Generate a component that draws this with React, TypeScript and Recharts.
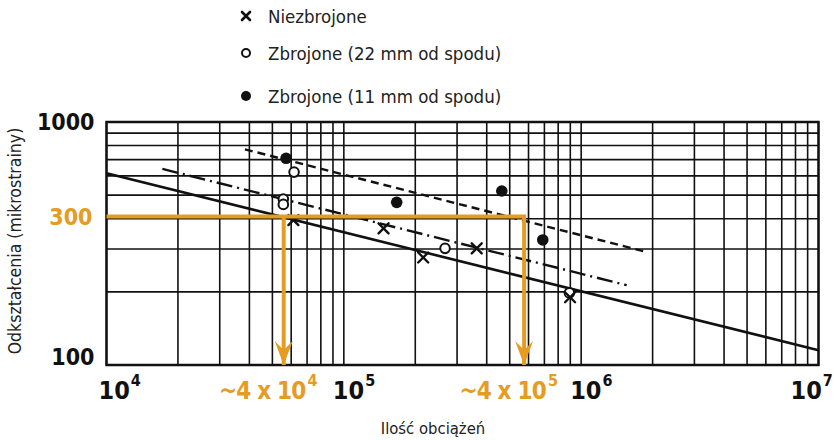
import React from 'react';
import { ScatterChart, Scatter, XAxis, YAxis, CartesianGrid, ReferenceArea } from 'recharts';

// grid / tick values
const gridCycles = [
  1e4, 2e4, 3e4, 4e4, 5e4, 6e4, 7e4, 8e4, 9e4,
  1e5, 2e5, 3e5, 4e5, 5e5, 6e5, 7e5, 8e5, 9e5,
  1e6, 2e6, 3e6, 4e6, 5e6, 6e6, 7e6, 8e6, 9e6,
  1e7,
];
const gridStrain = [100, 200, 300, 400, 500, 600, 700, 800, 900, 1000];
const decadeCycles = [1e4, 1e5, 1e6, 1e7];
const decadeExponents = ['4', '5', '6', '7'];
const strainLabels = [100, 1000];

// measured points
const unreinforcedCycles = [6.13e4, 1.47e5, 2.16e5, 3.63e5, 8.98e5];
const unreinforcedStrain = [395, 365, 277, 302, 190];
const reinf22Cycles = [6.17e4, 5.56e4, 5.56e4, 2.67e5, 8.92e5];
const reinf22Strain = [622, 482, 458, 302, 198];
const reinf11Cycles = [5.71e4, 1.67e5, 4.63e5, 6.89e5];
const reinf11Strain = [709, 467, 520, 327];

// fitted lines
const fitUnreinfCycles = [1e4, 1e7];
const fitUnreinfStrain = [615, 115];
const fit22Cycles = [1.72e4, 1.556e6];
const fit22Strain = [641, 213];
const fit11Cycles = [3.83e4, 1.83e6];
const fit11Strain = [772, 294];

// annotation (orange)
const refStrain = 408;
const refLabel = '300';
const arrowCycles = [5.58e4, 5.75e5];
const arrowMantissa = ['~4 x 10', '~4 x 10'];
const arrowExponents = ['4', '5'];

const legendNames = ['Niezbrojone', 'Zbrojone (22 mm od spodu)', 'Zbrojone (11 mm od spodu)'];

const zip = (xs: number[], ys: number[]) => xs.map((x, i) => ({ x, y: ys[i] }));

const ORANGE = '#E69B22';
const INK = '#111';
const COND = '"DejaVu Sans Condensed", "Liberation Sans Narrow", "DejaVu Sans", sans-serif';

const unreinforced = zip(unreinforcedCycles, unreinforcedStrain);
const reinf22 = zip(reinf22Cycles, reinf22Strain);
const reinf11 = zip(reinf11Cycles, reinf11Strain);
const fitUnreinf = zip(fitUnreinfCycles, fitUnreinfStrain);
const fit22 = zip(fit22Cycles, fit22Strain);
const fit11 = zip(fit11Cycles, fit11Strain);
const orangeMain = [
  { x: 1e4, y: refStrain },
  { x: arrowCycles[1], y: refStrain },
  { x: arrowCycles[1], y: 100 },
];
const orangeFirst = [
  { x: arrowCycles[0], y: refStrain },
  { x: arrowCycles[0], y: 100 },
];
const arrowPoints = arrowCycles.map((x, i) => ({ x, y: 100, m: arrowMantissa[i], e: arrowExponents[i] }));
const refPoint = [{ x: 1e4, y: refStrain }];

const XTick = (props: any) => {
  const { x, payload } = props;
  const i = decadeCycles.indexOf(payload.value);
  if (i < 0) return <g />;
  const dx = i === 0 ? 6 : i === decadeCycles.length - 1 ? -14 : 3;
  return (
    <text x={x + dx - 14} y={399} textAnchor="start" fontFamily={COND} fontWeight={700} fontSize={25} fill={INK}>
      <tspan>10</tspan>
      <tspan dx={1} dy={-13} fontSize={16}>{decadeExponents[i]}</tspan>
    </text>
  );
};

const YTick = (props: any) => {
  const { y, payload } = props;
  if (strainLabels.indexOf(payload.value) < 0) return <g />;
  const dy = payload.value === 100 ? -8 : 0;
  return (
    <text x={106.5 - 12} y={y + dy} textAnchor="end" dominantBaseline="central" fontFamily={COND} fontWeight={700} fontSize={23} fill={INK}>
      {payload.value}
    </text>
  );
};

const Cross = (props: any) => {
  const { cx, cy } = props;
  const s = 5;
  return (
    <g stroke={INK} strokeWidth={2.4} strokeLinecap="round">
      <line x1={cx - s} y1={cy - s} x2={cx + s} y2={cy + s} />
      <line x1={cx - s} y1={cy + s} x2={cx + s} y2={cy - s} />
    </g>
  );
};
const OpenDot = (props: any) => <circle cx={props.cx} cy={props.cy} r={4.8} fill="#fff" stroke={INK} strokeWidth={2} />;
const FilledDot = (props: any) => <circle cx={props.cx} cy={props.cy} r={5.8} fill={INK} />;
const NoShape = () => <g />;

const ArrowHead = (props: any) => {
  const { cx, cy, payload } = props;
  return (
    <g>
      <path d={`M ${cx - 9} ${cy - 24} L ${cx} ${cy - 15} L ${cx + 9} ${cy - 24} L ${cx} ${cy} Z`} fill={ORANGE} />
      <text x={cx + 33} y={399} textAnchor="end" fontFamily={COND} fontWeight={700} fontSize={24} letterSpacing={-0.8} fill={ORANGE}>
        {payload.m}
        <tspan dx={2} dy={-13} fontSize={16}>{payload.e}</tspan>
      </text>
    </g>
  );
};

const RefLabel = (props: any) => (
  <text x={props.cx - 14} y={props.cy} textAnchor="end" dominantBaseline="central" fontFamily={COND} fontWeight={700} fontSize={23} fill={ORANGE}>
    {refLabel}
  </text>
);

const LegendSymbol = ({ i }: { i: number }) => (
  <svg width={16} height={16} style={{ display: 'block' }}>
    {i === 0 && (
      <g stroke={INK} strokeWidth={2.6} strokeLinecap="round">
        <line x1={4} y1={4} x2={12} y2={12} />
        <line x1={4} y1={12} x2={12} y2={4} />
      </g>
    )}
    {i === 1 && <circle cx={8} cy={8} r={4} fill="#fff" stroke={INK} strokeWidth={2} />}
    {i === 2 && <circle cx={8} cy={8} r={5} fill={INK} />}
  </svg>
);

export default function App() {
  return (
    <div style={{ position: 'absolute', left: 0, top: 0, width: 834, height: 440, background: '#fff', overflow: 'hidden' }}>
      <div style={{ position: 'absolute', left: 238, top: 0 }}>
        {legendNames.map((n, i) => (
          <div key={n} style={{ position: 'absolute', top: [16, 53, 96][i] - 11, left: 0, height: 22, display: 'flex', alignItems: 'center', whiteSpace: 'nowrap' }}>
            <LegendSymbol i={i} />
            <span style={{ marginLeft: 14, fontFamily: COND, fontSize: 18.5, color: '#222' }}>{n}</span>
          </div>
        ))}
      </div>
      <ScatterChart width={834} height={440} margin={{ top: 122, right: 15.5, bottom: 35, left: 46.5 }}>
        <CartesianGrid stroke={INK} strokeWidth={1.6} />
        <XAxis
          dataKey="x"
          type="number"
          scale="log"
          domain={[1e4, 1e7]}
          ticks={gridCycles}
          interval={0}
          height={40}
          axisLine={false}
          tickLine={false}
          tick={<XTick />}
        />
        <YAxis
          dataKey="y"
          type="number"
          scale="log"
          domain={[100, 1000]}
          ticks={gridStrain}
          interval={0}
          width={60}
          axisLine={false}
          tickLine={false}
          tick={<YTick />}
        />
        <ReferenceArea x1={1e4} x2={1e7} y1={100} y2={1000} fill="none" stroke={INK} strokeWidth={2.4} ifOverflow="visible" />
        <Scatter data={fitUnreinf} shape={NoShape} line={{ stroke: INK, strokeWidth: 2.6 }} isAnimationActive={false} />
        <Scatter data={fit22} shape={NoShape} line={{ stroke: INK, strokeWidth: 2.4, strokeDasharray: '16 5 2 5' }} isAnimationActive={false} />
        <Scatter data={fit11} shape={NoShape} line={{ stroke: INK, strokeWidth: 2.4, strokeDasharray: '8 5' }} isAnimationActive={false} />
        <Scatter data={reinf22} shape={OpenDot} isAnimationActive={false} />
        <Scatter data={reinf11} shape={FilledDot} isAnimationActive={false} />
        <Scatter data={unreinforced} shape={Cross} isAnimationActive={false} />
        <Scatter data={orangeMain} shape={NoShape} line={{ stroke: ORANGE, strokeWidth: 4 }} isAnimationActive={false} />
        <Scatter data={orangeFirst} shape={NoShape} line={{ stroke: ORANGE, strokeWidth: 4 }} isAnimationActive={false} />
        <Scatter data={arrowPoints} shape={ArrowHead} isAnimationActive={false} />
        <Scatter data={refPoint} shape={RefLabel} isAnimationActive={false} />
      </ScatterChart>
      <div
        style={{
          position: 'absolute', left: 433, top: 428, transform: 'translate(-50%, -50%)',
          fontFamily: COND, fontSize: 16.5, color: '#222', whiteSpace: 'nowrap',
        }}
      >
        Ilość obciążeń
      </div>
      <div
        style={{
          position: 'absolute', left: 15, top: 241, transform: 'translate(-50%, -50%) rotate(-90deg)',
          fontFamily: COND, fontSize: 17.5, color: '#222', whiteSpace: 'nowrap',
        }}
      >
        Odkształcenia (mikrostrainy)
      </div>
    </div>
  );
}
